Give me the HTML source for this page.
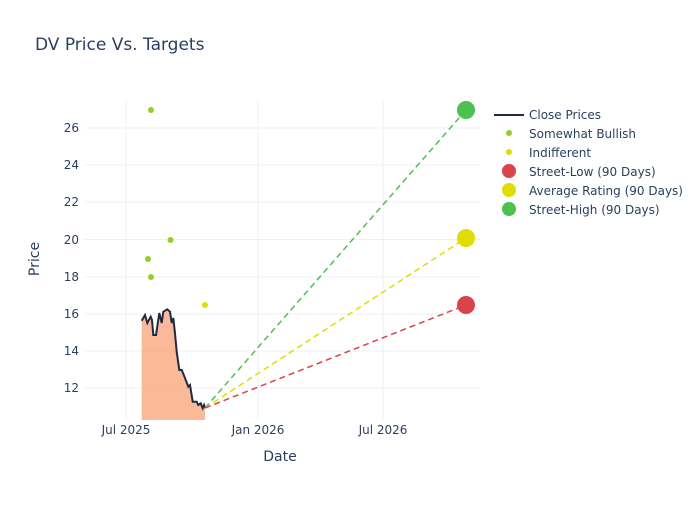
<!DOCTYPE html>
<html><head><meta charset="utf-8"><style>body{margin:0;background:#fff}svg{font-family:"DejaVu Sans","Liberation Sans",sans-serif}</style></head><body>
<svg width="700" height="500" xmlns="http://www.w3.org/2000/svg">
<rect width="700" height="500" fill="#fff"/>
<text x="35" y="50" font-size="17" fill="#2a3f5f">DV Price Vs. Targets</text>
<g stroke="#ebf0f8" stroke-width="1">
<line x1="126" y1="100" x2="126" y2="420"/><line x1="258" y1="100" x2="258" y2="420"/><line x1="383" y1="100" x2="383" y2="420"/>
<line x1="85" y1="128" x2="480" y2="128"/><line x1="85" y1="165" x2="480" y2="165"/><line x1="85" y1="202" x2="480" y2="202"/><line x1="85" y1="239.5" x2="480" y2="239.5"/><line x1="85" y1="277" x2="480" y2="277"/><line x1="85" y1="314" x2="480" y2="314"/><line x1="85" y1="351" x2="480" y2="351"/><line x1="85" y1="388" x2="480" y2="388"/>
</g>
<g font-size="12" fill="#2a3f5f" text-anchor="end">
<text x="79" y="132">26</text><text x="79" y="169">24</text><text x="79" y="206">22</text><text x="79" y="244">20</text><text x="79" y="281">18</text><text x="79" y="318">16</text><text x="79" y="355">14</text><text x="79" y="392">12</text>
</g>
<g font-size="12" fill="#2a3f5f" text-anchor="middle">
<text x="126" y="434">Jul 2025</text><text x="258" y="434">Jan 2026</text><text x="383" y="434">Jul 2026</text>
<text x="280" y="461" font-size="14">Date</text>
</g>
<text x="39" y="259" font-size="14" fill="#2a3f5f" text-anchor="middle" transform="rotate(-90 39 259)">Price</text>
<polygon fill="#f9a77f" fill-opacity="0.8" points="141.7,420 141.7,320.7 145,315 147.3,323 150.7,316.7 152,320 153.3,335 156,335 159.3,313 161.7,323 163.3,311.7 167.3,309.3 170,311.7 171.7,323 173.3,318 175,333.3 176.7,351.7 179.3,370 181.7,370 185,378 188.3,386.7 190,385 192.7,401.7 196.7,401.7 198.3,405 200.7,403.3 202.7,408.3 204,405 205,408 205,420"/>
<polyline fill="none" stroke="#222a3f" stroke-width="2" points="141.7,320.7 145,315 147.3,323 150.7,316.7 152,320 153.3,335 156,335 159.3,313 161.7,323 163.3,311.7 167.3,309.3 170,311.7 171.7,323 173.3,318 175,333.3 176.7,351.7 179.3,370 181.7,370 185,378 188.3,386.7 190,385 192.7,401.7 196.7,401.7 198.3,405 200.7,403.3 202.7,408.3 204,405 205,408"/>
<g stroke-width="1.5" stroke-dasharray="6,4" fill="none">
<line x1="205" y1="408" x2="466" y2="110" stroke="#4cc150"/>
<line x1="205" y1="408" x2="466" y2="238" stroke="#e0de00"/>
<line x1="205" y1="408" x2="466" y2="305" stroke="#d9434c"/>
</g>
<g fill="#93cf26">
<circle cx="151" cy="110" r="3"/><circle cx="148" cy="259" r="3"/><circle cx="151" cy="277" r="3"/><circle cx="170.5" cy="240" r="3"/>
</g>
<circle cx="205" cy="305" r="3" fill="#e0de00"/>
<circle cx="466" cy="110" r="9" fill="#4cc150"/>
<circle cx="466" cy="238" r="9" fill="#e0de00"/>
<circle cx="466" cy="305" r="9" fill="#d9434c"/>
<g font-size="12" fill="#2a3f5f">
<line x1="494" y1="115" x2="524" y2="115" stroke="#222a3f" stroke-width="2"/><text x="529" y="119">Close Prices</text>
<circle cx="509" cy="133" r="3" fill="#93cf26"/><text x="529" y="138">Somewhat Bullish</text>
<circle cx="509" cy="152" r="3" fill="#e0de00"/><text x="529" y="157">Indifferent</text>
<circle cx="509" cy="171" r="7" fill="#d9434c"/><text x="529" y="176">Street-Low (90 Days)</text>
<circle cx="509" cy="190" r="7" fill="#e0de00"/><text x="529" y="195">Average Rating (90 Days)</text>
<circle cx="509" cy="209" r="7" fill="#4cc150"/><text x="529" y="214">Street-High (90 Days)</text>
</g>
</svg>
</body></html>
